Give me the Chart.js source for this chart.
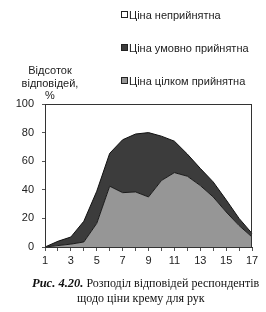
<!DOCTYPE html>
<html>
<head>
<meta charset="utf-8">
<script src="https://cdn.jsdelivr.net/npm/chart.js@4/dist/chart.umd.min.js"></script>
<style>
  html, body { margin: 0; padding: 0; background: #fff; }
  #wrap { position: relative; width: 266px; height: 312px; overflow: hidden; font-family: "Liberation Sans", Arial, sans-serif; color: #222; }
  #wrap canvas { position: absolute; left: 0; top: 0; }
  .lg { position: absolute; left: 121px; font-size: 11px; line-height: 12px; white-space: nowrap; }
  .lg i { display: inline-block; width: 5px; height: 5px; border: 1px solid #222; margin-right: 1px; vertical-align: 1px; }
  #ytitle { position: absolute; left: 9px; width: 82px; top: 64px; font-size: 11px; line-height: 12.5px; text-align: center; }
  .cap { position: absolute; font-family: "Liberation Serif", "DejaVu Serif", serif; font-size: 12px; white-space: nowrap; color: #111; }
  .cap b { font-style: italic; font-size: 12.5px; }
</style>
</head>
<body>
<div id="wrap">
  <canvas id="chartarea" width="266" height="312"></canvas>
  <div class="lg" style="top:9px"><i style="background:#fff"></i>Ціна неприйнятна</div>
  <div class="lg" style="top:42px"><i style="background:#3c3c3c"></i>Ціна умовно прийнятна</div>
  <div class="lg" style="top:75px"><i style="background:#969696"></i>Ціна цілком прийнятна</div>
  <div id="ytitle">Відсоток<br>відповідей,<br>%</div>
  <div class="cap" style="left:32px; top:276px"><b>Рис. 4.20.</b> Розподіл відповідей респондентів</div>
  <div class="cap" style="left:77px; top:291px">щодо ціни крему для рук</div>
</div>
<script>
// chart values
var labels = ['1','2','3','4','5','6','7','8','9','10','11','12','13','14','15','16','17'];
var fullyOk   = [0, 1, 2, 3.5, 16.5, 42.5, 38, 38.5, 35, 46.5, 52, 49.5, 43, 35, 24.5, 15, 7];
var partlyOk  = [0, 3, 5, 14.5, 22.5, 23, 37, 40.5, 45, 31, 22, 15.5, 12, 10.5, 8.5, 5, 2.5];
var notOk     = [100, 96, 93, 82, 61, 34.5, 25, 21, 20, 22.5, 26, 35, 45, 54.5, 67, 80, 90.5];
var yTicks    = [0, 20, 40, 60, 80, 100];

// box round the plot area
var frame = {
    id: 'frame',
    afterDraw: function (chart) {
        var a = chart.chartArea, c = chart.ctx;
        c.save();
        c.strokeStyle = '#333';
        c.lineWidth = 1;
        c.strokeRect(Math.round(a.left) + 0.5, Math.round(a.top) + 0.5, Math.round(a.right - a.left) - 1, Math.round(a.bottom - a.top));
        c.restore();
    }
};

var ctx = document.getElementById('chartarea');

new Chart(ctx, {
    type: 'line',
    data: {
        labels: labels,
        datasets: [
            { label: 'Ціна цілком прийнятна', data: fullyOk, fill: 'origin', backgroundColor: '#969696', borderColor: '#1a1a1a', borderWidth: 1, pointRadius: 0, tension: 0 },
            { label: 'Ціна умовно прийнятна', data: partlyOk, fill: '-1', backgroundColor: '#3c3c3c', borderColor: '#111', borderWidth: 1, pointRadius: 0, tension: 0 },
            { label: 'Ціна неприйнятна', data: notOk, fill: '-1', backgroundColor: '#ffffff', borderColor: 'rgba(0,0,0,0)', borderWidth: 0, pointRadius: 0, tension: 0 }
        ]
    },
    options: {
        animation: false,
        responsive: false,
        devicePixelRatio: 1,
        layout: { padding: { left: 0, right: 14, top: 104, bottom: 0 } },
        plugins: { legend: { display: false }, tooltip: { enabled: false } },
        scales: {
            x: {
                offset: false,
                grid: { drawOnChartArea: false, tickLength: 4, color: '#555' },
                border: { color: '#333' },
                ticks: {
                    autoSkip: false, maxRotation: 0, padding: 3,
                    color: '#222', font: { family: 'Liberation Sans', size: 11 },
                    callback: function (v) { var l = this.getLabelForValue(v); return (+l) % 2 === 1 ? l : ''; }
                },
                afterFit: function (s) { s.height = 65; }
            },
            y: {
                stacked: true, min: 0, max: 100,
                afterBuildTicks: function (s) { s.ticks = yTicks.map(function (v) { return { value: v }; }); },
                grid: { drawOnChartArea: false, tickLength: 3, color: '#555' },
                border: { color: '#333' },
                ticks: { padding: 8, color: '#222', font: { family: 'Liberation Sans', size: 11 } },
                afterFit: function (s) { s.width = 45; }
            }
        }
    },
    plugins: [frame]
});
</script>
</body>
</html>
